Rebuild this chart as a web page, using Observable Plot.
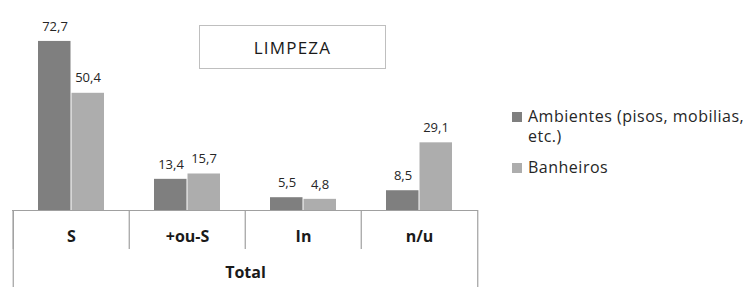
<!DOCTYPE html>
<html>
<head>
<meta charset="utf-8">
<script src="https://cdn.jsdelivr.net/npm/d3@7"></script>
<script src="https://cdn.jsdelivr.net/npm/@observablehq/plot@0.6"></script>
<style>
  html, body { margin: 0; padding: 0; background: #fff; }
  #wrap { position: relative; width: 755px; height: 287px; font-family: "Open Sans", sans-serif; color: #262626; }
  #wrap svg { position: absolute; left: 0; top: 0; overflow: visible; }
  g[aria-label="values"] text { letter-spacing: 0.9px; }
  g[aria-label="cats"] text { letter-spacing: 1.2px; }
  #title { position: absolute; left: 199px; top: 25px; width: 187px; height: 44px; box-sizing: border-box;
    border: 1px solid #bfbfbf; display: flex; align-items: center; justify-content: center;
    font-size: 17px; letter-spacing: 1.2px; color: #1a1a1a; }
  #legend { position: absolute; left: 512px; top: 106px; font-size: 16px; letter-spacing: 0.5px; color: #262626; }
  .item { position: relative; padding-left: 16px; line-height: 20px; margin-bottom: 11px; width: 232px; }
  .sw { position: absolute; left: 0; top: 6px; width: 10px; height: 10px; }
</style>
</head>
<body>
<div id="wrap"></div>
<script>
const categories = ["S", "+ou-S", "In", "n/u"];
const seriesNames = ["Ambientes (pisos, mobilias, etc.)", "Banheiros"];
const ambientes = [72.7, 13.4, 5.5, 8.5];
const banheiros = [50.4, 15.7, 4.8, 29.1];
const groupLabel = "Total";
const chartTitle = "LIMPEZA";
const colors = ["#7f7f7f", "#adadad"];

const rowsA = categories.map((c, i) => ({cat: c, value: ambientes[i]}));
const rowsB = categories.map((c, i) => ({cat: c, value: banheiros[i]}));
const fmt = d => d.value.toFixed(1).replace(".", ",");

const W = 755, H = 287, mL = 12, mR = 277, mT = 0, mB = 77;
const bw = (W - mL - mR) / categories.length;
const lineColor = "#a0a0a0";

const chart = Plot.plot({
  width: W, height: H,
  marginLeft: mL, marginRight: mR, marginTop: mT, marginBottom: mB,
  style: {fontFamily: "Open Sans, sans-serif", fontSize: "13px", color: "#262626", background: "transparent"},
  x: {domain: categories, padding: 0, axis: null},
  y: {domain: [0, 90.3], axis: null},
  marks: [
    Plot.barY(rowsA, {x: "cat", y: "value", fill: colors[0], insetLeft: 25, insetRight: 58.5}),
    Plot.barY(rowsB, {x: "cat", y: "value", fill: colors[1], insetLeft: 58.5, insetRight: 25}),
    Plot.ruleY([0], {stroke: lineColor, strokeWidth: 1.2}),
    Plot.ruleX(categories, {x: d => d, dx: -bw / 2, insetTop: H - mB - mT, insetBottom: -39, stroke: lineColor, strokeWidth: 1.2}),
    Plot.ruleX([categories[0]], {x: d => d, dx: -bw / 2, insetTop: H - mB - mT, insetBottom: -mB, stroke: lineColor, strokeWidth: 1.2}),
    Plot.ruleX([categories[categories.length - 1]], {x: d => d, dx: bw / 2, insetTop: H - mB - mT, insetBottom: -mB, stroke: lineColor, strokeWidth: 1.2}),
    Plot.text(rowsA, {x: "cat", y: "value", text: fmt, dx: -16.5, dy: -15, fill: "#262626", fontSize: 13, ariaLabel: "values"}),
    Plot.text(rowsB, {x: "cat", y: "value", text: fmt, dx: 16.5, dy: -15, fill: "#262626", fontSize: 13, ariaLabel: "values"}),
    Plot.text(categories, {x: d => d, text: d => d, frameAnchor: "bottom", dy: 31, fontSize: 16, fontWeight: "bold", fill: "#1a1a1a", ariaLabel: "cats"}),
    Plot.text([groupLabel], {text: d => d, frameAnchor: "bottom", dy: 67, fontSize: 16, fontWeight: "bold", fill: "#1a1a1a", ariaLabel: "cats"})
  ]
});

const wrap = document.getElementById("wrap");
wrap.appendChild(chart);

const t = document.createElement("div");
t.id = "title";
t.textContent = chartTitle;
wrap.appendChild(t);

const leg = document.createElement("div");
leg.id = "legend";
seriesNames.forEach((n, i) => {
  const it = document.createElement("div");
  it.className = "item";
  const sw = document.createElement("span");
  sw.className = "sw";
  sw.style.background = colors[i];
  it.appendChild(sw);
  it.appendChild(document.createTextNode(n));
  leg.appendChild(it);
});
wrap.appendChild(leg);
</script>
</body>
</html>
